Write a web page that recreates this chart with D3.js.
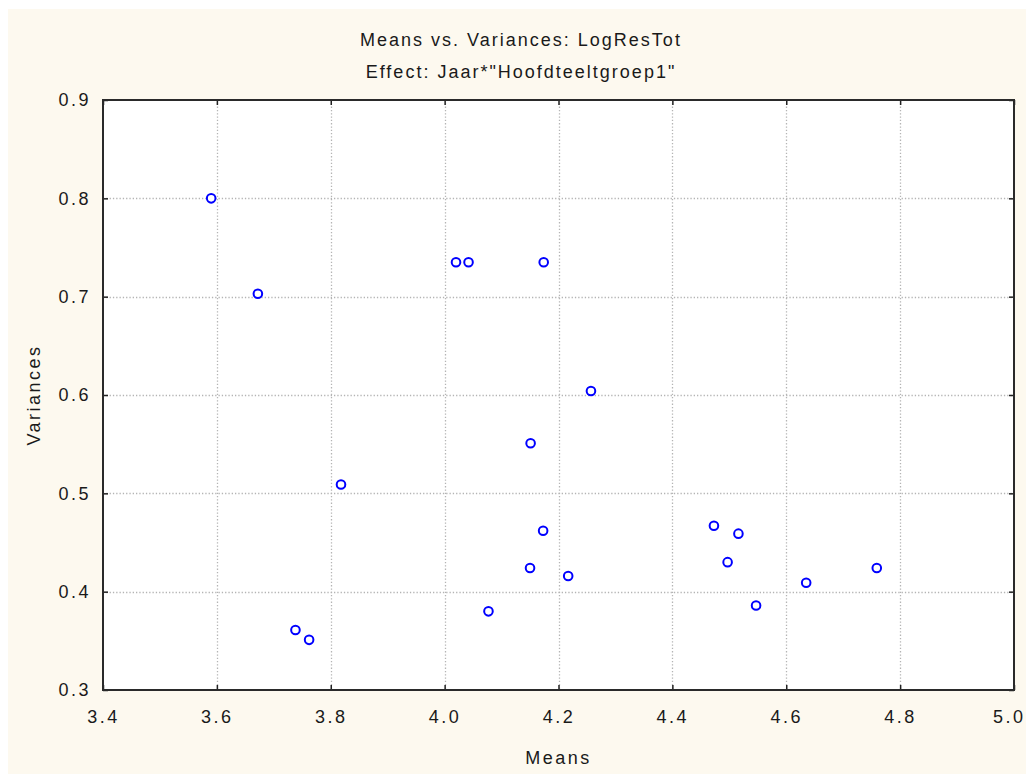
<!DOCTYPE html>
<html>
<head>
<meta charset="utf-8">
<script src="https://cdn.jsdelivr.net/npm/d3@7"></script>
<style>
  html, body { margin: 0; padding: 0; background: #ffffff; }
  svg { display: block; }
  text { font-family: "Liberation Sans", Arial, sans-serif; fill: #1a1a1a; }
</style>
</head>
<body>
<svg id="chart" width="1026" height="774"></svg>
<script>
// Cell means and variances of LogResTot for Jaar * Hoofdteeltgroep1
const means = [3.590, 3.672, 3.818, 3.738, 3.762, 4.077, 4.173, 4.150, 4.257, 4.151,
               4.217, 4.473, 4.516, 4.497, 4.547, 4.635, 4.759, 4.020, 4.042, 4.174];
const variances = [0.800, 0.703, 0.509, 0.361, 0.351, 0.380, 0.462, 0.424, 0.604, 0.551,
                   0.416, 0.467, 0.459, 0.430, 0.386, 0.409, 0.424, 0.735, 0.735, 0.735];
const xTicks = [3.4, 3.6, 3.8, 4.0, 4.2, 4.4, 4.6, 4.8, 5.0];
const yTicks = [0.3, 0.4, 0.5, 0.6, 0.7, 0.8, 0.9];

const svg = d3.select("#chart");
const W = 1026, H = 774;
const plot = { left: 103, right: 1014, top: 100, bottom: 690 };

// cream panel
svg.append("rect").attr("x", 8).attr("y", 9).attr("width", W - 8).attr("height", H - 9)
  .attr("fill", "#fdf9ef");

const x = d3.scaleLinear().domain([3.4, 5.0]).range([plot.left, plot.right]);
const y = d3.scaleLinear().domain([0.3, 0.9]).range([plot.bottom, plot.top]);

// plot background
svg.append("rect")
  .attr("x", plot.left).attr("y", plot.top)
  .attr("width", plot.right - plot.left).attr("height", plot.bottom - plot.top)
  .attr("fill", "#ffffff");

// dotted grid
const grid = svg.append("g").attr("stroke", "#b4b4b4").attr("stroke-width", 1.3)
  .attr("stroke-dasharray", "1.3,2");
grid.selectAll("line.v").data(xTicks.slice(1, -1)).join("line")
  .attr("x1", d => Math.round(x(d)) + 0.5).attr("x2", d => Math.round(x(d)) + 0.5)
  .attr("y1", plot.top).attr("y2", plot.bottom);
grid.selectAll("line.h").data(yTicks.slice(1, -1)).join("line")
  .attr("x1", plot.left).attr("x2", plot.right)
  .attr("y1", d => Math.round(y(d)) + 0.5).attr("y2", d => Math.round(y(d)) + 0.5);

// axes with inward ticks
const fmt = d3.format(".1f");
const axStyle = g => {
  g.select(".domain").remove();
  g.selectAll(".tick line").attr("stroke", "#222").attr("stroke-width", 1.5);
  g.selectAll(".tick text").attr("font-size", 18).attr("letter-spacing", "2.5px").attr("fill", "#1a1a1a")
    .style("font-family", '"Liberation Sans", Arial, sans-serif');
};
const xAxis = svg.append("g").attr("transform", `translate(0,${plot.bottom})`)
  .call(d3.axisBottom(x).tickValues(xTicks).tickFormat(fmt).tickSize(-5).tickPadding(20))
  .call(axStyle);
// keep the last label inside the page edge
xAxis.selectAll(".tick text").filter(d => d === xTicks[xTicks.length - 1])
  .attr("text-anchor", "end").attr("x", W - plot.right - 1);
svg.append("g").attr("transform", `translate(${plot.left},0)`)
  .call(d3.axisLeft(y).tickValues(yTicks).tickFormat(fmt).tickSize(-5).tickPadding(12))
  .call(axStyle);
svg.append("g").attr("transform", `translate(0,${plot.top})`)
  .call(d3.axisTop(x).tickValues(xTicks).tickFormat("").tickSize(-5))
  .call(axStyle);
svg.append("g").attr("transform", `translate(${plot.right},0)`)
  .call(d3.axisRight(y).tickValues(yTicks).tickFormat("").tickSize(-5))
  .call(axStyle);

// frame
svg.append("rect")
  .attr("x", plot.left).attr("y", plot.top)
  .attr("width", plot.right - plot.left).attr("height", plot.bottom - plot.top)
  .attr("fill", "none").attr("stroke", "#2a2a2a").attr("stroke-width", 2);

// points
svg.append("g").selectAll("circle").data(means.map((m, i) => [m, variances[i]])).join("circle")
  .attr("cx", d => x(d[0])).attr("cy", d => y(d[1])).attr("r", 4.3)
  .attr("fill", "#ffffff").attr("stroke", "#0000ff").attr("stroke-width", 2);

// titles
svg.append("text").attr("x", 521).attr("y", 46).attr("text-anchor", "middle")
  .attr("font-size", 18).attr("letter-spacing", "2px")
  .text("Means vs. Variances: LogResTot");
svg.append("text").attr("x", 521).attr("y", 78).attr("text-anchor", "middle")
  .attr("font-size", 18).attr("letter-spacing", "2px")
  .text('Effect: Jaar*"Hoofdteeltgroep1"');

// axis titles
svg.append("text").attr("x", (plot.left + plot.right) / 2).attr("y", 764).attr("text-anchor", "middle")
  .attr("font-size", 18).attr("letter-spacing", "2.5px").text("Means");
svg.append("text").attr("transform", `translate(40,${(plot.top + plot.bottom) / 2}) rotate(-90)`)
  .attr("text-anchor", "middle").attr("font-size", 18).attr("letter-spacing", "2.5px").text("Variances");
</script>
</body>
</html>
